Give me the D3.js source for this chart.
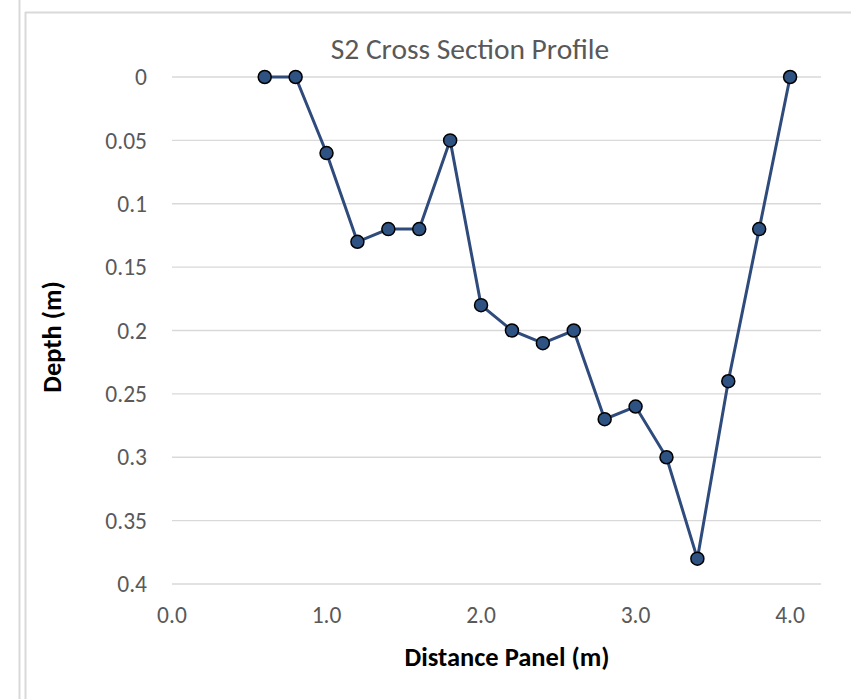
<!DOCTYPE html>
<html><head><meta charset="utf-8">
<script src="https://cdn.jsdelivr.net/npm/d3@7"></script>
<style>body{margin:0;background:#fff}svg{display:block}text{font-family:Carlito,Calibri,Lato,"Open Sans",sans-serif}</style>
</head><body><svg id="c" width="851" height="699"></svg>
<script>
const distance = [0.6,0.8,1.0,1.2,1.4,1.6,1.8,2.0,2.2,2.4,2.6,2.8,3.0,3.2,3.4,3.6,3.8,4.0];
const depth = [0,0,0.06,0.13,0.12,0.12,0.05,0.18,0.2,0.21,0.2,0.27,0.26,0.3,0.38,0.24,0.12,0];
const xTicks = [0,1,2,3,4];
const yTicks = [0,0.05,0.1,0.15,0.2,0.25,0.3,0.35,0.4];
const yTickLabels = ["0","0.05","0.1","0.15","0.2","0.25","0.3","0.35","0.4"];

const svg = d3.select("#c");
// frame lines
svg.append("line").attr("x1",19.5).attr("x2",19.5).attr("y1",0).attr("y2",699).attr("stroke","#d9d9d9").attr("stroke-width",2);
svg.append("line").attr("x1",25.5).attr("x2",25.5).attr("y1",12).attr("y2",699).attr("stroke","#d9d9d9").attr("stroke-width",2);
svg.append("line").attr("x1",25).attr("x2",851).attr("y1",12.5).attr("y2",12.5).attr("stroke","#d9d9d9").attr("stroke-width",2);

const x = d3.scaleLinear().domain([0,4.2]).range([172,821]);
const y = d3.scaleLinear().domain([0,0.4]).range([77,584]);

const g = svg.append("g");
g.selectAll(".grid").data(yTicks).join("line")
 .attr("x1",x(0)).attr("x2",x(4.2)).attr("y1",d=>y(d)).attr("y2",d=>y(d))
 .attr("stroke","#d9d9d9").attr("stroke-width",1.3);

g.selectAll(".yl").data(yTicks).join("text")
 .attr("x",147).attr("y",d=>y(d)).attr("dy","0.35em").attr("text-anchor","end")
 .attr("fill","#595959").attr("font-size",23.5).text((d,i)=>yTickLabels[i]);

g.selectAll(".xl").data(xTicks).join("text")
 .attr("x",d=>x(d)).attr("y",615).attr("dy","0.35em").attr("text-anchor","middle")
 .attr("fill","#595959").attr("font-size",23.5).text(d=>d3.format(".1f")(d));

const line = d3.line().x((d,i)=>x(distance[i])).y(d=>y(d));
g.append("path").datum(depth).attr("d",line).attr("fill","none").attr("stroke","#2f4b7c").attr("stroke-width",3);
g.selectAll(".pt").data(depth).join("circle")
 .attr("cx",(d,i)=>x(distance[i])).attr("cy",d=>y(d)).attr("r",6.5)
 .attr("fill","#2e5282").attr("stroke","#000").attr("stroke-width",1.5);

svg.append("text").attr("x",470).attr("y",49).attr("dy","0.35em").attr("text-anchor","middle")
 .attr("fill","#595959").attr("font-size",29.5).text("S2 Cross Section Profile");
svg.append("text").attr("x",507).attr("y",657).attr("dy","0.35em").attr("text-anchor","middle")
 .attr("fill","#000").attr("font-size",26.5).attr("font-weight","bold").text("Distance Panel (m)");
svg.append("text").attr("transform","translate(52,337) rotate(-90)").attr("dy","0.35em").attr("text-anchor","middle")
 .attr("fill","#000").attr("font-size",26.5).attr("font-weight","bold").text("Depth (m)");
</script></body></html>
